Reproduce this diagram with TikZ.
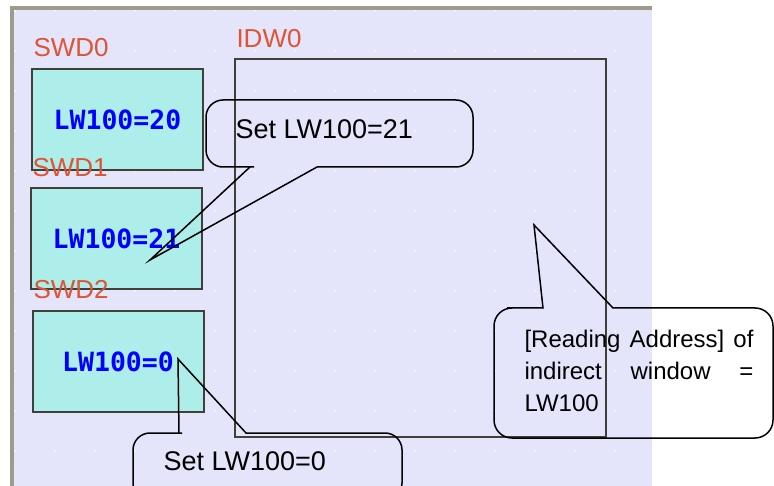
\documentclass[tikz,border=0pt]{standalone}
\usepackage{fontspec}
\setmainfont{Liberation Sans}
\newfontfamily\pixfont{DejaVu Sans Mono}
\usepackage{xcolor}
\usepackage{tikz}
\usetikzlibrary{positioning}

\definecolor{panelbg}{RGB}{228,228,250}
\definecolor{framegray}{RGB}{158,154,140}
\definecolor{swdfill}{RGB}{174,238,234}
\definecolor{boxedge}{RGB}{64,64,56}
\definecolor{lblred}{RGB}{222,84,52}
\definecolor{valblue}{RGB}{0,0,255}

\begin{document}
\begin{tikzpicture}[x=1pt,y=-1pt,line width=1pt,
    swdbox/.style={draw=boxedge,line width=2pt,fill=swdfill,minimum width=171pt,minimum height=101pt,
      inner sep=0pt,text=valblue,font=\pixfont\bfseries\fontsize{26.5}{28}\selectfont},
    lbl/.style={anchor=base west,inner sep=0pt,text=lblred,font=\fontsize{26}{28}\selectfont},
    note/.style={draw=black,line width=1.5pt},
    notetext/.style={anchor=base west,inner sep=0pt,font=\fontsize{27}{30}\selectfont}]
    \useasboundingbox (0,0) rectangle (774,486);
    \clip (0,0) rectangle (774,486);
    % editor panel and grid
    \fill[framegray] (10,6) rectangle (652,486);
    \fill[panelbg] (14,10) rectangle (652,486);
    \foreach \i in {0,...,15}
      \foreach \j in {0,...,11}
        \fill[white] (15+40*\i,11+40*\j) circle (1pt);
    % windows
    \node[draw=boxedge,line width=2pt,minimum width=371pt,minimum height=378pt,inner sep=0pt] (idw0) at (420.5,248) {};
    \node[swdbox] (swd0) at (117.5,119.5) {LW100=20};
    \node[swdbox] (swd1) at (116.5,239) {LW100=21};
    \node[swdbox] (swd2) at (118,361.5) {LW100=0};
    \node[lbl] (swd0lbl) at (33,57) {SWD0};
    \node[lbl] (swd1lbl) at (32,177) {SWD1};
    \node[lbl] (swd2lbl) at (33,299) {SWD2};
    \node[lbl] (idw0lbl) at (236,48) {IDW0};
    % callouts
    \coordinate (tip21) at (150,260);
    \coordinate (tip0) at (178,359);
    \coordinate (tipaddr) at (534,225);
    \draw[note] (250,167) -- (tip21) -- (317,167) -- (330,167) [rounded corners=17pt]
      -- (473,167) -- (473,100) -- (206,100) -- (206,167) -- (237,167) [sharp corners] -- cycle;
    \draw[note] (179,433) -- (tip0) -- (246,433) -- (260,433) [rounded corners=17pt]
      -- (402,433) -- (402,500) -- (133,500) -- (133,433) -- (165,433) [sharp corners] -- cycle;
    \draw[note] (543,308) -- (tipaddr) -- (613,308) -- (630,308) [rounded corners=18pt]
      -- (773,308) -- (773,438) -- (494,438) -- (494,308) -- (525,308) [sharp corners] -- cycle;
    \node[notetext] (set21) at (235,139) {Set LW100=21};
    \node[notetext] (set0) at (163,470) {Set LW100=0};
    \node[anchor=north west,inner sep=0pt,text width=229pt,align=left,
      font=\fontsize{24}{32}\selectfont] (addr) at (524,330)
      {\makebox[229pt][l]{[Reading\hfill Address]\hfill of}\\
       \makebox[229pt][l]{indirect\hfill window\hfill =}\\
       LW100};
  \end{tikzpicture}
\end{document}
